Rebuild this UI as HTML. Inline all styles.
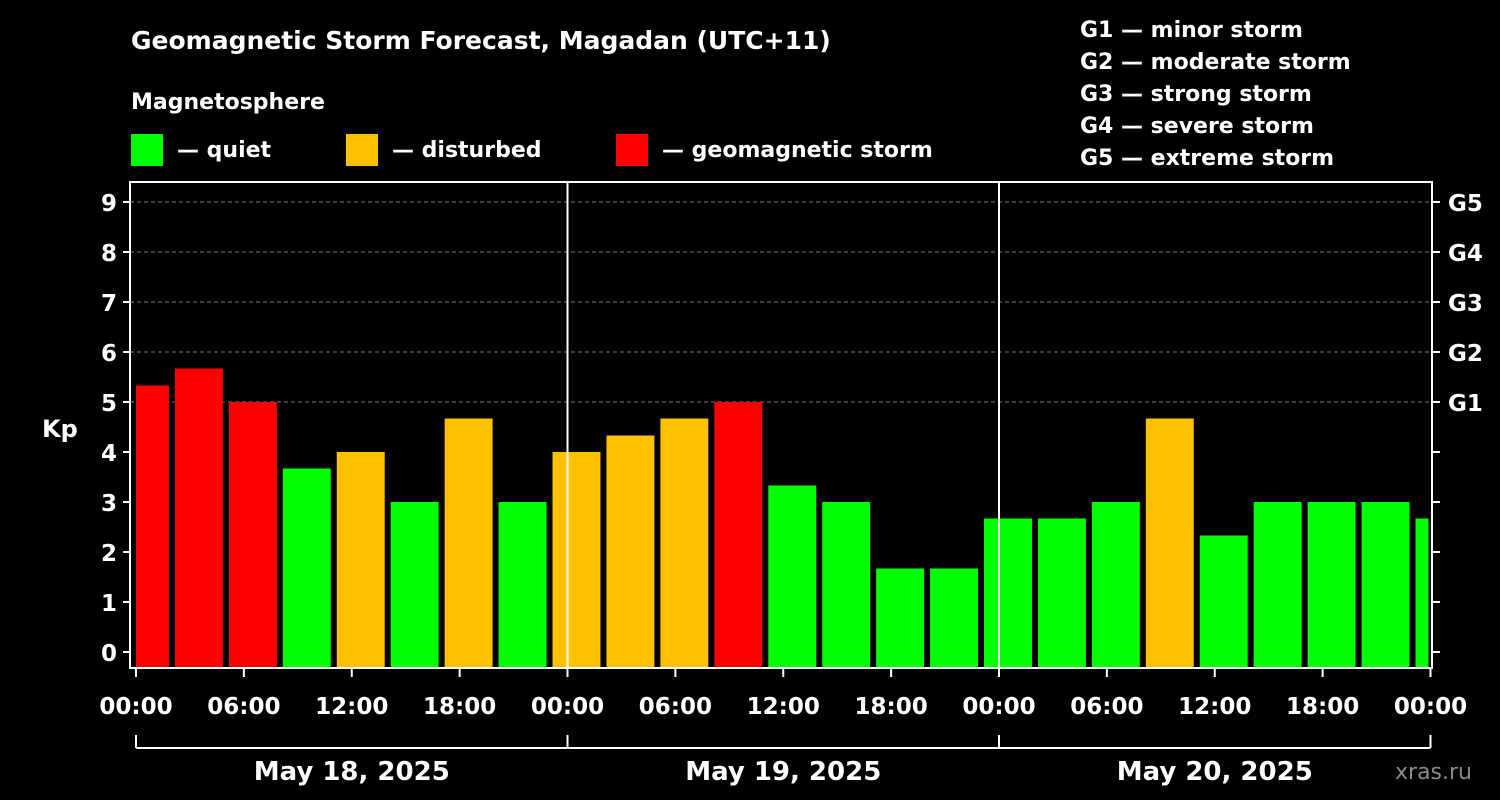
<!DOCTYPE html>
<html><head><meta charset="utf-8"><style>
body{margin:0;background:#000;width:1500px;height:800px;overflow:hidden}
svg{display:block}
text{font-family:"DejaVu Sans","Liberation Sans",sans-serif;font-weight:bold;fill:#fff}
</style></head><body>
<svg id="chart" width="1500" height="800">
<text x="131" y="49" font-size="25">Geomagnetic Storm Forecast, Magadan (UTC+11)</text>
<text x="131" y="109" font-size="22">Magnetosphere</text>
<g><rect x="131" y="134" width="32" height="32" fill="#00ff00"/><text x="177" y="157" font-size="22">— quiet</text></g>
<g><rect x="346" y="134" width="32" height="32" fill="#ffc000"/><text x="392" y="157" font-size="22">— disturbed</text></g>
<g><rect x="616" y="134" width="32" height="32" fill="#ff0000"/><text x="662" y="157" font-size="22">— geomagnetic storm</text></g>
<g font-size="22">
<text x="1080" y="37">G1 — minor storm</text><text x="1080" y="69">G2 — moderate storm</text><text x="1080" y="101">G3 — strong storm</text><text x="1080" y="133">G4 — severe storm</text><text x="1080" y="165">G5 — extreme storm</text></g>
<text x="42" y="437" font-size="24">Kp</text>
<text x="1395" y="779" font-size="22" style="fill:#8a8a8a;font-weight:normal">xras.ru</text>
<g id="plot"></g>
</svg>
<script>
const kpValues=[5.33,5.67,5.0,3.67,4.0,3.0,4.67,3.0,4.0,4.33,4.67,5.0,3.33,3.0,1.67,1.67,2.67,2.67,3.0,4.67,2.33,3.0,3.0,3.0,2.67];
const yTicks=[0,1,2,3,4,5,6,7,8,9];
const gLabels=["G1","G2","G3","G4","G5"];
const xTickLabels=["00:00","06:00","12:00","18:00","00:00","06:00","12:00","18:00","00:00","06:00","12:00","18:00","00:00"];
const dayLabels=["May 18, 2025","May 19, 2025","May 20, 2025"];
const firstBarStartHour=-1;
const NS="http://www.w3.org/2000/svg";
const plotG=document.getElementById('plot');
const X0=136,PXH=431.5/24,pLeft=130,pRight=1432,pTop=182,pBottom=668;
const xs=h=>X0+h*PXH, ys=k=>652-k*50;
function mk(t,a){const e=document.createElementNS(NS,t);for(const k in a)e.setAttribute(k,a[k]);plotG.appendChild(e);return e;}
for(const k of yTicks){ if(k>=5){const l=mk('line',{x1:pLeft,x2:pRight,y1:ys(k),y2:ys(k),stroke:'#777','stroke-dasharray':'4,3','stroke-width':1});

}}
kpValues.forEach((v,i)=>{
 const h0=firstBarStartHour+i*3,h1=h0+3;
 const x0=Math.max(xs(h0)+3,xs(0)), x1=Math.min(xs(h1)-3,xs(72)-2);
 const c=v>=5?'#ff0000':v>=4?'#ffc000':'#00ff00';
 const r=mk('rect',{x:x0,y:ys(v),width:x1-x0,height:pBottom-ys(v),fill:c});
 
 
});
[24,48].forEach(h=>{const l=mk('line',{x1:xs(h),x2:xs(h),y1:pTop,y2:pBottom,stroke:'#fff','stroke-width':2});

});
const fr=mk('rect',{x:pLeft,y:pTop,width:pRight-pLeft,height:pBottom-pTop,fill:'none',stroke:'#fff','stroke-width':2});


for(const k of yTicks){
 mk('line',{x1:pLeft-7,x2:pLeft,y1:ys(k),y2:ys(k),stroke:'#fff','stroke-width':2});
 mk('line',{x1:pRight,x2:pRight+8,y1:ys(k),y2:ys(k),stroke:'#fff','stroke-width':2});
 const t=mk('text',{x:pLeft-13,y:ys(k)+9,'font-size':23,'text-anchor':'end'});t.textContent=k;
 
 
}
gLabels.forEach((s,i)=>{const t=mk('text',{x:1448,y:ys(5+i)+9,'font-size':23});t.textContent=s;
 
 });
xTickLabels.forEach((s,i)=>{const x=xs(i*6);
 mk('line',{x1:x,x2:x,y1:pBottom,y2:pBottom+9,stroke:'#fff','stroke-width':2});
 const t=mk('text',{x:x,y:714,'font-size':23,'text-anchor':'middle'});t.textContent=s;
 
 });
mk('line',{x1:xs(0),x2:xs(72),y1:748,y2:748,stroke:'#fff','stroke-width':2});
[0,24,48,72].forEach(h=>mk('line',{x1:xs(h),x2:xs(h),y1:735,y2:748,stroke:'#fff','stroke-width':2}));
dayLabels.forEach((s,i)=>{const t=mk('text',{x:xs(i*24+12),y:780,'font-size':26,'text-anchor':'middle'});t.textContent=s;
 
 });
</script>
</body></html>
